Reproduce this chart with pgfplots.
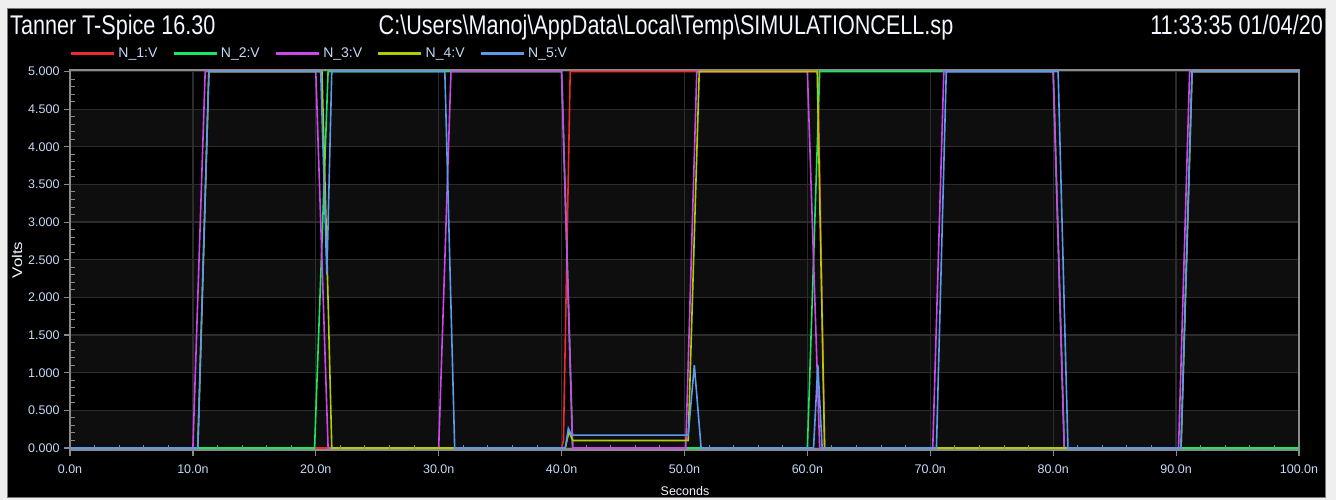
\documentclass[border=0pt]{standalone}
\usepackage{pgfplots}
\pgfplotsset{compat=1.18}
\usepackage{fontspec}
\setmainfont{Liberation Sans}
\usepackage{graphicx}
\definecolor{outerbg}{HTML}{EFEFEF}
\definecolor{panelframe}{HTML}{7A7A7A}
\definecolor{titlec}{HTML}{F2F6FF}
\definecolor{tickc}{HTML}{C4DAF6}
\definecolor{framec}{HTML}{8A8A8A}
\definecolor{gridc}{HTML}{2C2C2C}
\definecolor{bandc}{HTML}{0E0E0E}
\definecolor{cN1}{HTML}{F02830}
\definecolor{cN2}{HTML}{18E860}
\definecolor{cN3}{HTML}{CC48EC}
\definecolor{cN4}{HTML}{B2CC00}
\definecolor{cN5}{HTML}{5C9AEC}
\pgfplotsset{geom/.style={at={(70pt,-449.5pt)}, anchor=south west,
  scale only axis, width=1229pt, height=379.5pt,
  xmin=0, xmax=100, ymin=-0.02, ymax=5.02}}
\begin{document}
\begin{tikzpicture}
\fill[outerbg] (0pt,0pt) rectangle (1336pt,-500pt);
\fill[black] (7pt,-9pt) rectangle (1325pt,-497pt);
\draw[panelframe,line width=1pt] (7pt,-9pt) rectangle (1325pt,-497pt);
\node[anchor=base west,text=titlec,inner sep=0pt] at (10pt,-35pt) {\fontsize{27}{30}\selectfont\scalebox{0.8}[1]{Tanner T-Spice 16.30}};
\node[anchor=base,text=titlec,inner sep=0pt] at (666pt,-35pt) {\fontsize{27}{30}\selectfont\scalebox{0.8}[1]{C:\textbackslash Users\textbackslash Manoj\textbackslash AppData\textbackslash Local\textbackslash Temp\textbackslash SIMULATIONCELL.sp}};
\node[anchor=base east,text=titlec,inner sep=0pt] at (1323pt,-35pt) {\fontsize{27}{30}\selectfont\scalebox{0.8}[1]{11:33:35 01/04/20}};
\node[rotate=90,text=titlec,inner sep=0pt] at (17pt,-260pt) {\fontsize{14}{16}\selectfont\scalebox{1.2}[1]{Volts}};
\node[text=titlec,inner sep=0pt] at (685pt,-491pt) {\fontsize{12.5}{14}\selectfont Seconds};
% background bands
\begin{axis}[geom, hide axis, clip=false]
\fill[bandc] (axis cs:0,0) rectangle (axis cs:100,0.5);
\fill[bandc] (axis cs:0,1) rectangle (axis cs:100,1.5);
\fill[bandc] (axis cs:0,2) rectangle (axis cs:100,2.5);
\fill[bandc] (axis cs:0,3) rectangle (axis cs:100,3.5);
\fill[bandc] (axis cs:0,4) rectangle (axis cs:100,4.5);
\end{axis}
\begin{axis}[
  geom,
  xtick={0,10,...,100}, ytick={0,0.5,...,5},
  xticklabel={\pgfmathprintnumber[fixed,fixed zerofill,precision=1]{\tick}n},
  yticklabel={\pgfmathprintnumber[fixed,fixed zerofill,precision=3]{\tick}},
  /pgf/number format/assume math mode=true,
  tick label style={text=tickc,font=\fontsize{12.5}{14}\selectfont},
  xticklabel style={yshift=-6pt},
  yticklabel style={xshift=-1pt},
  tick align=outside, tick pos=left,
  major tick length=6pt,
  tick style={framec,line width=1.2pt},
  grid=major, major grid style={gridc,line width=1.3pt},
  axis line style={framec,line width=2.6pt},
  clip=false,
  legend columns=5,
  legend style={at={(0,1)},anchor=south west,yshift=11pt,fill=none,draw=none,
    inner sep=0pt,outer sep=0pt,text=tickc,font=\fontsize{14}{15}\selectfont,
    nodes={inner sep=0pt},
    /tikz/every even column/.append style={column sep=15pt},
    /tikz/every odd column/.append style={column sep=3pt}},
  legend image code/.code={\draw[#1,line width=2.5pt] (0pt,0pt) -- (43pt,0pt);},
  every axis plot/.append style={line width=1.6pt},
]
\addplot[cN1] coordinates {(0,0) (40.0,0) (40.15,0.1) (40.7,5) (60.85,5) (61.4,0) (100,0)};
\addlegendentry{N\_1:V}
\addplot[cN2] coordinates {(0,0) (19.9,0) (21.0,5) (40.0,5) (40.9,0) (60.0,0) (61.0,5) (80.0,5) (80.9,0) (100,0)};
\addlegendentry{N\_2:V}
\addplot[cN3] coordinates {(0,0) (10.0,0) (11.0,5) (20.0,5) (21.0,0) (30.0,0) (31.0,5) (40.0,5) (40.9,0) (50.1,0) (51.0,5) (60.0,5) (61.0,0) (70.2,0) (71.1,5) (80.0,5) (80.9,0) (90.2,0) (91.1,5) (100,5)};
\addlegendentry{N\_3:V}
\addplot[cN4] coordinates {(0,0) (10.4,0) (11.3,5) (20.5,5) (20.9,2.6) (21.3,0) (40.3,0) (40.6,0.22) (40.9,0.1) (50.3,0.1) (51.2,5) (60.8,5) (61.4,0) (90.4,0) (91.3,5) (100,5)};
\addlegendentry{N\_4:V}
\addplot[cN5] coordinates {(0,0) (10.4,0) (11.3,5) (20.4,5) (20.9,2.3) (21.3,5) (30.5,5) (31.3,0) (40.3,0) (40.55,0.26) (40.8,0.17) (50.3,0.17) (50.8,1.1) (51.35,0) (60.5,0) (60.85,1.1) (61.2,0) (70.5,0) (71.3,5) (80.4,5) (81.2,0) (90.4,0) (91.3,5) (100,5)};
\addlegendentry{N\_5:V}
\end{axis}
\begin{axis}[
  geom,
  xtick={0,10,...,100}, ytick={0,0.5,...,5},
  minor x tick num=4, minor y tick num=4,
  xticklabels={}, yticklabels={},
  tick align=inside, tick pos=left,
  major tick length=0pt, minor tick length=5pt,
  minor tick style={framec,line width=1pt},
  axis line style={draw=none},
]
\end{axis}
\end{tikzpicture}
\end{document}
